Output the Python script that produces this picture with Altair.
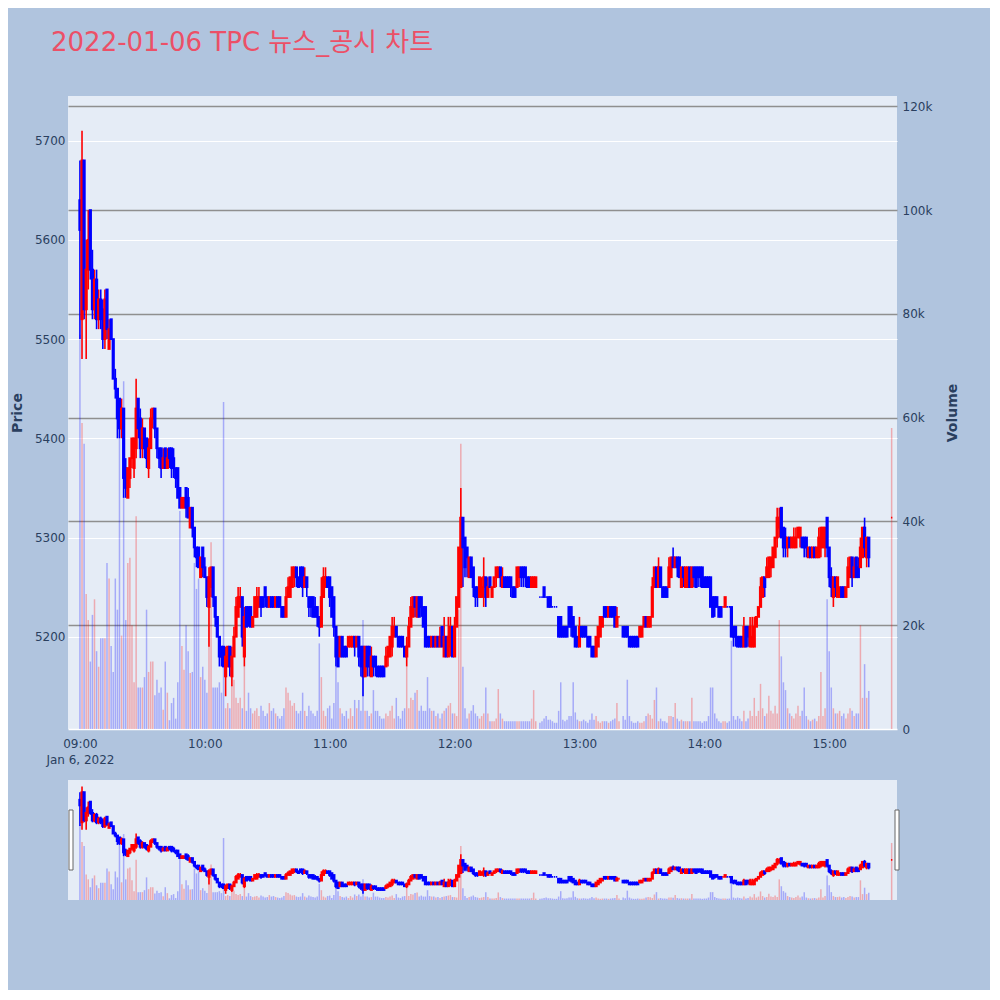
import altair as alt
import pandas as pd

TITLE = "2022-01-06 TPC 뉴스_공시 차트"
DAY = "2022-01-06"
SESSION_START = "09:00"

# one-minute candles from 09:00 (index = minutes after 09:00); None = no trade
opens = [
    5640, 5520, 5680, 5530, 5570, 5630, 5570, 5530, 5560, 5520,
    5540, 5530, 5500, 5550, 5490, 5520, 5500, 5460, 5450, 5440,
    5410, 5430, 5370, 5340, 5360, 5380, 5370, 5390, 5440, 5420,
    5390, 5410, 5400, 5370, 5390, 5420, 5430, 5410, 5390, 5390,
    5370, 5390, 5370, 5390, 5390, 5380, 5370, 5370, 5350, 5330,
    5330, 5350, 5340, 5310, 5330, 5310, 5290, 5290, 5260, 5290,
    5270, 5260, 5230, 5250, 5270, 5240, 5220, 5200, 5190, 5190,
    5160, 5170, 5190, 5160, 5180, 5200, 5220, 5230, 5240, 5180,
    5230, 5230, 5230, 5210, 5220, 5220, 5230, 5240, 5240, 5250,
    5240, 5230, 5240, 5240, 5230, 5240, 5240, 5230, 5230, 5220,
    5240, 5240, 5250, 5260, 5270, 5260, 5270, 5270, 5250, 5260,
    5240, 5240, 5240, 5230, 5230, 5220, 5210, 5240, 5250, 5260,
    5260, 5250, 5240, 5210, 5200, 5180, 5200, 5190, 5190, 5190,
    5190, 5190, 5200, 5190, 5200, 5190, 5190, 5160, 5190, 5190,
    5160, 5180, 5180, 5170, 5170, 5170, 5170, 5170, 5180, 5180,
    5190, 5200, 5210, 5200, 5200, 5200, 5190, 5180, 5190, 5210,
    5220, 5240, 5220, 5240, 5240, 5230, 5230, 5200, 5200, 5190,
    5200, 5190, 5200, 5190, 5210, 5180, 5200, 5180, 5190, 5210,
    5180, 5210, 5230, 5250, 5320, 5300, 5290, 5260, 5280, 5270,
    5250, 5250, 5240, 5240, 5250, 5260, 5240, 5260, 5240, 5250,
    5260, 5260, 5270, 5250, 5260, 5260, 5260, 5260, 5250, 5250,
    5250, 5260, 5270, 5270, 5270, 5260, 5260, 5250, 5250, 5250,
    None, 5240, 5240, 5250, 5240, 5240, 5240, 5230, 5230, 5230,
    5220, 5220, 5210, 5210, 5210, 5230, 5230, 5220, 5210, 5200,
    5190, 5210, 5210, 5210, 5200, 5200, 5190, 5190, 5180, 5190,
    5200, 5210, 5230, 5230, 5220, 5230, 5230, 5230, 5210, 5220,
    None, 5210, 5210, 5210, 5200, 5200, 5200, 5200, 5200, 5200,
    5200, 5210, 5220, 5210, 5210, 5220, 5250, 5270, 5250, 5270,
    5250, 5250, 5250, 5250, 5260, 5280, 5270, 5280, 5280, 5250,
    5270, 5250, 5250, 5270, 5250, 5270, 5270, 5270, 5270, 5270,
    5260, 5260, 5260, 5260, 5240, 5240, 5240, 5230, 5230, 5230,
    5230, 5230, 5230, 5230, 5210, 5210, 5200, 5200, 5200, 5190,
    5210, 5210, 5190, 5190, 5190, 5210, 5220, 5230, 5240, 5260,
    5260, 5260, 5270, 5270, 5280, 5300, 5310, 5330, 5310, 5300,
    5290, 5300, 5290, 5290, 5290, 5300, 5300, 5300, 5300, 5300,
    5280, 5290, 5280, 5290, 5280, 5280, 5290, 5290, 5290, 5320,
    5290, 5260, 5240, 5260, 5240, 5240, 5250, 5250, 5240, 5250,
    5260, 5280, 5260, 5280, 5270, 5270, 5280, 5310, 5280, 5300,
]
highs = [
    5680, 5710, 5680, 5600, 5630, 5630, 5590, 5570, 5570, 5550,
    5550, 5540, 5550, 5550, 5520, 5520, 5500, 5470, 5450, 5440,
    5440, 5430, 5380, 5370, 5380, 5400, 5400, 5460, 5440, 5430,
    5420, 5410, 5400, 5400, 5430, 5430, 5430, 5410, 5390, 5390,
    5390, 5390, 5390, 5390, 5390, 5390, 5370, 5370, 5350, 5340,
    5340, 5350, 5350, 5330, 5330, 5310, 5290, 5290, 5280, 5290,
    5280, 5260, 5270, 5270, 5270, 5240, 5220, 5200, 5190, 5190,
    5190, 5190, 5190, 5190, 5210, 5240, 5250, 5250, 5240, 5230,
    5230, 5230, 5230, 5220, 5240, 5250, 5250, 5240, 5240, 5250,
    5240, 5240, 5240, 5240, 5240, 5240, 5240, 5230, 5230, 5250,
    5260, 5260, 5270, 5270, 5270, 5260, 5270, 5270, 5270, 5260,
    5240, 5240, 5240, 5240, 5230, 5220, 5260, 5270, 5270, 5260,
    5260, 5250, 5240, 5210, 5200, 5200, 5200, 5190, 5190, 5200,
    5200, 5200, 5200, 5200, 5200, 5190, 5190, 5190, 5190, 5190,
    5190, 5180, 5180, 5170, 5170, 5170, 5170, 5190, 5190, 5200,
    5220, 5220, 5210, 5200, 5200, 5200, 5190, 5200, 5220, 5240,
    5240, 5240, 5240, 5240, 5240, 5230, 5230, 5200, 5200, 5200,
    5200, 5200, 5200, 5210, 5210, 5220, 5200, 5220, 5220, 5210,
    5220, 5240, 5290, 5350, 5320, 5300, 5290, 5280, 5280, 5270,
    5250, 5250, 5260, 5260, 5280, 5260, 5260, 5260, 5250, 5260,
    5270, 5270, 5270, 5270, 5260, 5260, 5260, 5260, 5250, 5250,
    5270, 5270, 5270, 5270, 5270, 5260, 5260, 5260, 5260, 5260,
    None, 5240, 5240, 5250, 5240, 5240, 5240, 5230, 5230, 5230,
    5220, 5220, 5210, 5210, 5210, 5230, 5230, 5220, 5210, 5200,
    5220, 5210, 5210, 5210, 5200, 5200, 5190, 5190, 5200, 5210,
    5220, 5220, 5230, 5230, 5230, 5230, 5230, 5230, 5230, 5220,
    None, 5210, 5210, 5210, 5200, 5200, 5200, 5200, 5200, 5210,
    5210, 5220, 5220, 5220, 5220, 5260, 5270, 5270, 5280, 5270,
    5250, 5250, 5250, 5280, 5280, 5290, 5280, 5280, 5280, 5270,
    5270, 5270, 5270, 5270, 5270, 5270, 5270, 5270, 5270, 5270,
    5260, 5260, 5260, 5260, 5240, 5240, 5240, 5230, 5230, 5230,
    5240, 5230, 5230, 5230, 5210, 5210, 5200, 5200, 5200, 5220,
    5210, 5210, 5220, 5220, 5220, 5220, 5230, 5260, 5260, 5260,
    5280, 5280, 5280, 5290, 5300, 5330, 5330, 5330, 5310, 5310,
    5300, 5300, 5300, 5310, 5310, 5310, 5310, 5300, 5300, 5300,
    5290, 5290, 5290, 5290, 5290, 5310, 5310, 5310, 5310, 5320,
    5290, 5270, 5260, 5260, 5260, 5250, 5250, 5250, 5250, 5280,
    5280, 5280, 5280, 5280, 5280, 5300, 5310, 5320, 5300, 5300,
]
lows = [
    5500, 5480, 5520, 5480, 5550, 5560, 5520, 5520, 5510, 5510,
    5510, 5490, 5490, 5500, 5490, 5500, 5460, 5440, 5400, 5400,
    5400, 5340, 5340, 5340, 5350, 5370, 5360, 5380, 5400, 5380,
    5380, 5380, 5370, 5360, 5390, 5410, 5400, 5380, 5370, 5360,
    5370, 5370, 5370, 5370, 5360, 5360, 5350, 5340, 5330, 5330,
    5330, 5320, 5320, 5310, 5300, 5280, 5270, 5270, 5260, 5260,
    5260, 5230, 5190, 5240, 5230, 5210, 5200, 5170, 5170, 5170,
    5140, 5170, 5160, 5150, 5180, 5200, 5220, 5230, 5190, 5170,
    5210, 5210, 5210, 5210, 5220, 5220, 5230, 5220, 5230, 5230,
    5230, 5230, 5230, 5230, 5230, 5230, 5230, 5220, 5220, 5220,
    5240, 5240, 5250, 5250, 5250, 5250, 5250, 5240, 5250, 5240,
    5220, 5220, 5220, 5220, 5210, 5200, 5210, 5240, 5250, 5250,
    5230, 5220, 5200, 5170, 5170, 5180, 5180, 5180, 5180, 5190,
    5190, 5190, 5180, 5190, 5170, 5160, 5140, 5160, 5160, 5160,
    5160, 5160, 5160, 5160, 5160, 5160, 5160, 5170, 5170, 5180,
    5180, 5200, 5200, 5190, 5190, 5190, 5180, 5170, 5190, 5210,
    5220, 5220, 5220, 5220, 5220, 5210, 5190, 5190, 5190, 5190,
    5190, 5190, 5190, 5190, 5190, 5180, 5180, 5180, 5180, 5180,
    5180, 5210, 5230, 5250, 5250, 5260, 5260, 5260, 5260, 5240,
    5230, 5230, 5240, 5240, 5230, 5230, 5240, 5250, 5240, 5250,
    5250, 5260, 5250, 5250, 5250, 5250, 5250, 5240, 5240, 5240,
    5250, 5250, 5250, 5250, 5250, 5250, 5250, 5250, 5250, 5250,
    None, 5240, 5240, 5240, 5240, 5230, 5230, 5230, 5230, 5230,
    5200, 5200, 5200, 5200, 5200, 5210, 5200, 5200, 5190, 5190,
    5190, 5200, 5200, 5200, 5190, 5190, 5180, 5180, 5180, 5190,
    5200, 5210, 5220, 5220, 5220, 5220, 5220, 5210, 5210, 5220,
    None, 5200, 5200, 5200, 5190, 5190, 5190, 5190, 5190, 5200,
    5200, 5210, 5210, 5210, 5210, 5220, 5250, 5250, 5250, 5250,
    5240, 5240, 5240, 5250, 5260, 5270, 5270, 5260, 5260, 5250,
    5250, 5250, 5250, 5250, 5250, 5250, 5250, 5250, 5250, 5250,
    5250, 5250, 5250, 5230, 5220, 5220, 5230, 5220, 5220, 5230,
    5230, 5230, 5230, 5200, 5190, 5190, 5190, 5190, 5190, 5190,
    5190, 5190, 5190, 5190, 5190, 5210, 5220, 5230, 5240, 5240,
    5260, 5260, 5260, 5270, 5280, 5290, 5300, 5300, 5280, 5280,
    5280, 5290, 5290, 5290, 5290, 5300, 5290, 5290, 5280, 5280,
    5280, 5280, 5280, 5280, 5280, 5280, 5280, 5290, 5280, 5280,
    5250, 5240, 5230, 5240, 5240, 5240, 5240, 5240, 5240, 5250,
    5260, 5250, 5260, 5260, 5260, 5270, 5280, 5280, 5270, 5270,
]
closes = [
    5610, 5680, 5530, 5570, 5600, 5570, 5530, 5560, 5520, 5540,
    5520, 5500, 5540, 5510, 5510, 5500, 5460, 5450, 5420, 5410,
    5430, 5360, 5350, 5370, 5380, 5400, 5400, 5430, 5410, 5390,
    5410, 5390, 5380, 5390, 5420, 5430, 5410, 5390, 5380, 5370,
    5380, 5370, 5380, 5380, 5370, 5370, 5360, 5340, 5330, 5340,
    5340, 5330, 5320, 5330, 5310, 5290, 5280, 5270, 5280, 5270,
    5260, 5240, 5260, 5270, 5240, 5220, 5200, 5180, 5180, 5170,
    5180, 5190, 5170, 5180, 5200, 5230, 5240, 5240, 5200, 5220,
    5210, 5220, 5210, 5220, 5240, 5240, 5240, 5230, 5230, 5240,
    5230, 5240, 5230, 5230, 5240, 5230, 5230, 5220, 5220, 5240,
    5250, 5260, 5270, 5270, 5260, 5250, 5260, 5250, 5260, 5250,
    5230, 5230, 5220, 5220, 5220, 5210, 5240, 5260, 5260, 5250,
    5240, 5220, 5210, 5180, 5170, 5200, 5180, 5180, 5180, 5200,
    5200, 5200, 5190, 5200, 5180, 5170, 5160, 5190, 5170, 5170,
    5180, 5170, 5170, 5160, 5160, 5160, 5160, 5180, 5190, 5200,
    5210, 5210, 5200, 5190, 5190, 5190, 5180, 5190, 5210, 5230,
    5240, 5230, 5240, 5220, 5230, 5210, 5190, 5190, 5190, 5200,
    5190, 5200, 5190, 5200, 5190, 5200, 5180, 5200, 5210, 5180,
    5210, 5240, 5290, 5320, 5290, 5270, 5280, 5280, 5260, 5250,
    5240, 5240, 5260, 5250, 5260, 5240, 5250, 5250, 5250, 5260,
    5270, 5270, 5260, 5260, 5250, 5250, 5250, 5250, 5240, 5240,
    5270, 5270, 5260, 5260, 5260, 5250, 5250, 5260, 5260, 5260,
    None, 5240, 5240, 5240, 5240, 5230, 5230, 5230, 5230, 5230,
    5200, 5200, 5200, 5200, 5200, 5210, 5210, 5200, 5190, 5190,
    5210, 5200, 5200, 5200, 5190, 5190, 5180, 5180, 5200, 5210,
    5220, 5220, 5220, 5220, 5230, 5220, 5220, 5210, 5220, 5220,
    None, 5200, 5200, 5200, 5190, 5190, 5190, 5190, 5190, 5210,
    5210, 5220, 5210, 5220, 5220, 5250, 5270, 5250, 5270, 5250,
    5240, 5240, 5240, 5270, 5280, 5270, 5280, 5270, 5260, 5270,
    5260, 5270, 5270, 5250, 5270, 5260, 5250, 5260, 5260, 5250,
    5250, 5250, 5250, 5230, 5220, 5230, 5230, 5220, 5220, 5230,
    5240, 5230, 5230, 5200, 5200, 5200, 5190, 5190, 5190, 5210,
    5190, 5200, 5210, 5200, 5210, 5220, 5230, 5250, 5260, 5250,
    5270, 5280, 5280, 5290, 5300, 5320, 5320, 5300, 5290, 5290,
    5300, 5290, 5300, 5300, 5300, 5310, 5310, 5290, 5290, 5290,
    5290, 5280, 5290, 5280, 5290, 5300, 5310, 5310, 5310, 5290,
    5260, 5250, 5260, 5250, 5260, 5250, 5240, 5240, 5250, 5270,
    5280, 5260, 5270, 5260, 5260, 5290, 5310, 5290, 5300, 5280,
]
volumes_k = [
    76, 59, 55, 26, 21, 13, 22, 25, 15, 12,
    17.5, 17.5, 17.5, 32, 29, 16, 11, 29, 23, 63,
    18, 67, 21, 32, 33, 20, 9, 41, 8, 8,
    8, 10, 23, 11, 13, 13, 6.5, 9.5, 7, 8,
    3.7, 13, 7, 1.7, 5, 6, 2, 9, 42, 16,
    11.4, 20, 15, 10.8, 11, 32, 27, 29, 10, 12,
    9.5, 7, 27, 36, 8, 8, 8, 9, 7, 63,
    4, 5, 4, 8.5, 9.5, 6, 5, 6, 4, 12,
    3.5, 7, 4, 3, 3.5, 4, 2.5, 4.5, 3.5, 2.5,
    3, 5, 3.5, 4, 3, 2.5, 2, 2.5, 4, 8,
    7, 5.5, 4.5, 5, 3.5, 3, 3.5, 7, 3.5, 2.5,
    4.5, 3.5, 3, 2.5, 3.5, 16.5, 10, 3.5, 2.5, 4,
    4.5, 2, 5, 12, 9, 4, 3, 2.5, 3.5, 2,
    4, 2.5, 5.6, 4, 5.6, 3.5, 21, 3.5, 3.5, 2.5,
    3, 7.5, 3.5, 3.5, 2.5, 2, 2, 3, 2.5, 3.5,
    4.5, 2, 6, 2.5, 2, 3.5, 4, 12, 4, 6,
    5.6, 7, 7.5, 3.5, 4.5, 3.5, 3.5, 10, 4, 3.5,
    3.5, 2.5, 3, 2, 3, 3.5, 4, 4.5, 5, 3,
    3, 2.5, 23, 55, 12, 4, 2, 3, 3.5, 4.6,
    3, 2.5, 2, 2.5, 3, 8, 3, 1.5, 1.5, 1.5,
    2, 7.7, 3, 2, 1.5, 1.5, 1.5, 1.5, 1.5, 1.5,
    1.5, 1.5, 1.5, 1.5, 1.5, 1.5, 1.5, 2, 7.5, 1.5,
    None, 1.2, 1.5, 2, 2.5, 1.8, 1.8, 1.5, 1.2, 1.2,
    3.5, 9, 1.8, 1.5, 1.8, 2.5, 2.5, 9, 3.2, 1.8,
    1.5, 1.5, 1.8, 1.5, 1.2, 1.8, 3, 1.8, 2.5, 1.5,
    1.2, 1.5, 1.5, 1.5, 1.2, 1.5, 1.8, 2, 5, 1.5,
    None, 2.5, 1.8, 9.5, 2.5, 1.5, 1.2, 1.2, 1.5, 1.2,
    1.2, 1.5, 2.5, 3, 2.7, 2, 5.6, 8, 1.5, 2,
    1.5, 1.5, 1.2, 2.5, 2.5, 2.3, 5, 2, 1.5, 1.8,
    1.5, 1.5, 1.5, 1.5, 6, 1.5, 1.5, 1.5, 1.5, 1.2,
    1.5, 1.5, 2.5, 8, 8, 3, 2, 1.5, 1.2, 1.5,
    1.5, 1.2, 1.5, 17, 2.5, 1.8, 2.5, 2, 1.5, 3.5,
    1.5, 2, 3.5, 2.5, 6, 2.5, 3.5, 8.7, 4, 2.5,
    3, 6.4, 3.5, 3, 4.5, 3, 21, 14, 9, 7.5,
    4, 3, 2.5, 2, 3, 4.5, 2.5, 3.5, 8, 2.5,
    1.8, 1.5, 1.8, 2, 1.5, 2.5, 11, 2.5, 4, 25,
    15, 8, 4, 3, 3, 3.5, 2.5, 3, 2, 3,
    4, 3.5, 2.5, 3, 3, 20, 6, 12.5, 6, 7.3,
]
# closing auction
auction_time = "15:30"
auction_ohlc = [5320, 5320, 5320, 5320]
auction_volume_k = 58

# ---------------------------------------------------------------- table
start = pd.Timestamp(f"{DAY} {SESSION_START}")
recs = []
for i, (o, h, l, c, v) in enumerate(zip(opens, highs, lows, closes, volumes_k)):
    if c is None:
        continue
    recs.append({"t": start + pd.Timedelta(minutes=i), "o": o, "h": h, "l": l, "c": c, "v": v * 1000})
ao, ah, al, ac = auction_ohlc
recs.append({"t": pd.Timestamp(f"{DAY} {auction_time}"), "o": ao, "h": ah, "l": al, "c": ac,
             "v": auction_volume_k * 1000})
df = pd.DataFrame(recs)

# candle direction (plotly rule: equal open/close compares with previous close)
dirs = []
prev_c, prev_d = None, "down"
for o, c in zip(df["o"], df["c"]):
    if c > o:
        d = "up"
    elif c < o:
        d = "down"
    elif prev_c is not None and c > prev_c:
        d = "up"
    elif prev_c is not None and c < prev_c:
        d = "down"
    else:
        d = prev_d
    dirs.append(d)
    prev_c, prev_d = c, d
df["dir"] = dirs
df["t"] = df["t"].dt.strftime("%Y-%m-%dT%H:%M:%S")

# ---------------------------------------------------------------- styling
FONT = "DejaVu Sans"
INK = "#2a3f5f"


def dt(h, m=0, s=0):
    return alt.DateTime(year=2022, month=1, date=6, hours=h, minutes=m, seconds=s)


x_scale = alt.Scale(domain=[dt(8, 56, 40), dt(15, 30, 10)])
x_axis = alt.Axis(
    values=[dt(h) for h in range(9, 16)],
    labelExpr="hours(datum.value) == 9 ? ['09:00', 'Jan 6, 2022'] : timeFormat(datum.value, '%H:%M')",
    title=None, grid=False, ticks=False, tickSize=0, domain=False,
    labelFontSize=12, labelColor=INK, labelFont=FONT, labelPadding=9,
    labelLineHeight=16, labelAngle=0,
)
cscale = alt.Scale(domain=["up", "down"], range=["#FF0000", "#0000FF"])
price_scale = alt.Scale(domain=[5107, 5745], nice=False, zero=False)
vol_scale = alt.Scale(domain=[0, 122000], nice=False)

price_axis = alt.Axis(
    orient="left", values=list(range(5200, 5701, 100)), format="d", grid=True,
    gridColor="white", gridWidth=1, ticks=False, domain=False, labelColor=INK,
    labelFontSize=12, labelFont=FONT, labelPadding=3, title="Price", titleFontSize=14,
    titleFontWeight="bold", titleColor=INK, titleFont=FONT, titlePadding=10,
)
vol_axis = alt.Axis(
    orient="right", values=[0, 20000, 40000, 60000, 80000, 100000, 120000],
    labelExpr="datum.value === 0 ? '0' : format(datum.value, '~s')",
    grid=True,
    gridColor={"condition": {"test": "datum.value === 0", "value": "white"}, "value": "#8f8f8f"},
    gridWidth=1.5, ticks=False, domain=False, labelColor=INK, labelFontSize=12,
    labelFont=FONT, labelPadding=5, title="Volume", titleFontSize=14,
    titleFontWeight="bold", titleColor=INK, titleFont=FONT, titlePadding=28, titleAngle=270,
)


def panel(with_axes, height):
    xa = x_axis if with_axes else None
    pa = price_axis if with_axes else None
    va = vol_axis if with_axes else None
    base = alt.Chart(df)
    x = alt.X("t:T", scale=x_scale, axis=xa)
    color = alt.Color("dir:N", scale=cscale, legend=None)
    vol = base.mark_bar(size=1.5, opacity=0.28).encode(
        x=x, y=alt.Y("v:Q", scale=vol_scale, axis=va), color=color
    )
    wick = base.mark_rule(strokeWidth=1.6).encode(
        x=x, y=alt.Y("l:Q", scale=price_scale, axis=pa), y2="h:Q", color=color
    )
    body = base.mark_bar(size=1.4, strokeWidth=1.8).encode(
        x=x, y=alt.Y("o:Q", scale=price_scale, axis=pa), y2="c:Q", color=color,
        stroke=alt.Stroke("dir:N", scale=cscale, legend=None),
    )
    chart = alt.layer(vol, alt.layer(wick, body)).resolve_scale(y="independent")
    return chart.properties(width=829, height=height)


main = panel(True, 633)

slider = panel(False, 120)
grab = alt.Chart(pd.DataFrame({"side": ["left", "right"], "x0": [1, 827]}))
handles = grab.mark_rect(fill="white", stroke="#666666", strokeWidth=1).encode(
    x=alt.X("x0:Q", scale=None, axis=None),
    x2=alt.X2("x1:Q"),
    y=alt.value(30), y2=alt.value(90),
).transform_calculate(x1="datum.x0 + 4")
slider = alt.layer(slider, handles).properties(width=829, height=120)

chart = alt.vconcat(main, slider, spacing=51, bounds="flush").properties(
    title=alt.TitleParams(
        text=TITLE, anchor="start", frame="group", fontSize=26,
        font="DejaVu Sans, Noto Sans CJK KR", color="#EC5067", fontWeight="normal",
        offset=40, dx=-17,
    ),
    background="#B0C4DE",
    padding={"left": 2, "top": 22, "right": 30, "bottom": 90},
).configure_view(fill="#E5ECF6", stroke=None)

chart.save("out.html", embed_options={"renderer": "svg", "actions": False})
